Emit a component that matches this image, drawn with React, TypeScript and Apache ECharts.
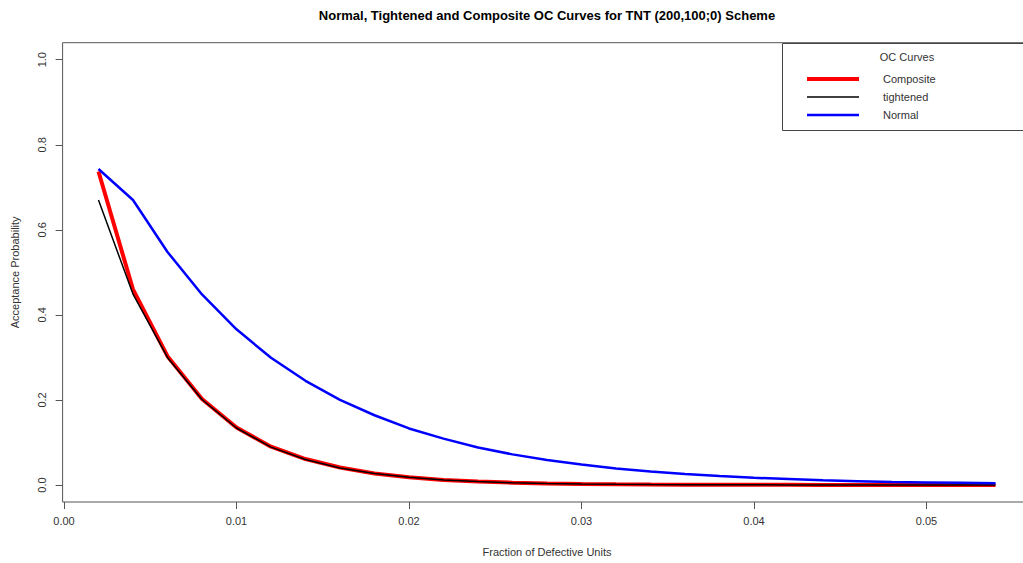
import React, { useEffect, useRef } from "react";
import * as echarts from "echarts";

const fractions = [
  0.002, 0.004, 0.006, 0.008, 0.01, 0.012, 0.014, 0.016, 0.018, 0.02, 0.022, 0.024, 0.026, 0.028,
  0.03, 0.032, 0.034, 0.036, 0.038, 0.04, 0.042, 0.044, 0.046, 0.048, 0.05, 0.052, 0.054,
];
const composite = [
  0.737, 0.46, 0.303, 0.202, 0.135, 0.09, 0.061, 0.041, 0.027, 0.018, 0.012, 0.008, 0.0055, 0.0037,
  0.0025, 0.0017, 0.0012, 0.0008, 0.0006, 0.0004, 0.0003, 0.0002, 0.0002, 0.0001, 0.0001, 0.0001, 0,
];
const tightened = [
  0.67, 0.449, 0.3, 0.201, 0.134, 0.089, 0.06, 0.04, 0.027, 0.018, 0.012, 0.008, 0.005, 0.0035,
  0.0023, 0.0015, 0.001, 0.0007, 0.0005, 0.0003, 0.0002, 0.0001, 0.0001, 0.0001, 0, 0, 0,
];
const normal = [
  0.743, 0.67, 0.548, 0.448, 0.366, 0.299, 0.245, 0.2, 0.164, 0.133, 0.109, 0.088, 0.072, 0.059,
  0.048, 0.039, 0.032, 0.026, 0.021, 0.017, 0.014, 0.011, 0.009, 0.007, 0.006, 0.005, 0.004,
];
const xTicks = [0, 0.01, 0.02, 0.03, 0.04, 0.05];
const yTicks = [0, 0.2, 0.4, 0.6, 0.8, 1.0];
const legendTitle = "OC Curves";
const legendNames = ["Composite", "tightened", "Normal"];
const chartTitle = "Normal, Tightened and Composite OC Curves for TNT (200,100;0) Scheme";

const FONT = "'Liberation Sans', Arial, sans-serif";

export default function App() {
  const ref = useRef<HTMLDivElement>(null);
  useEffect(() => {
    document.body.style.margin = "0";
    if (!ref.current) return;
    const chart = echarts.init(ref.current, undefined, { renderer: "svg" });
    const pairs = (ys: number[]) => fractions.map((x, i) => [x, ys[i]]);
    const colors = ["#ff0000", "#000000", "#0000ff"];
    const widths = [4, 1.5, 2.5];
    const legendY = [79, 97, 115];
    chart.setOption({
      animation: false,
      backgroundColor: "#ffffff",
      textStyle: { fontFamily: FONT },
      grid: {
        left: 62.6, top: 42.7, right: -8.4, bottom: 61,
        containLabel: false, outerBoundsMode: "none",
        show: true, borderColor: "#555", borderWidth: 1, backgroundColor: "transparent",
      },
      xAxis: {
        type: "value",
        min: -0.00008,
        max: 0.05608,
        splitLine: { show: false },
        axisLine: { show: false, onZero: false },
        axisTick: { show: true, length: 7, lineStyle: { color: "#555" }, customValues: xTicks },
        axisLabel: { customValues: xTicks, formatter: (v: number) => v.toFixed(2), color: "#333", fontSize: 11, margin: 13, fontFamily: FONT },
        name: "Fraction of Defective Units",
        nameLocation: "middle",
        nameGap: 44,
        nameTextStyle: { color: "#333", fontSize: 11, fontFamily: FONT },
      },
      yAxis: {
        type: "value",
        min: -0.04,
        max: 1.04,
        splitLine: { show: false },
        axisLine: { show: false, onZero: false },
        axisTick: { show: true, length: 7, lineStyle: { color: "#555" }, customValues: yTicks },
        axisLabel: { customValues: yTicks, rotate: 90, formatter: (v: number) => v.toFixed(1), color: "#333", fontSize: 11, margin: 15, fontFamily: FONT },
        name: "Acceptance Probability",
        nameLocation: "middle",
        nameGap: 42,
        nameTextStyle: { color: "#333", fontSize: 11, fontFamily: FONT },
      },
      series: [
        { name: legendNames[0], type: "line", data: pairs(composite), showSymbol: false, lineStyle: { color: colors[0], width: widths[0] }, z: 2 },
        { name: legendNames[1], type: "line", data: pairs(tightened), showSymbol: false, lineStyle: { color: colors[1], width: widths[1] }, z: 3 },
        { name: legendNames[2], type: "line", data: pairs(normal), showSymbol: false, lineStyle: { color: colors[2], width: widths[2] }, z: 4 },
      ],
      graphic: [
        { type: "text", x: 547, y: 15, style: { text: chartTitle, font: `bold 13px ${FONT}`, fill: "#000", textAlign: "center", textVerticalAlign: "middle" } },
        { type: "rect", shape: { x: 782.5, y: 43.5, width: 260, height: 87 }, style: { fill: "#fff", stroke: "#444", lineWidth: 1 }, z: 10 },
        { type: "text", x: 907, y: 57, style: { text: legendTitle, font: `11px ${FONT}`, fill: "#333", textAlign: "center", textVerticalAlign: "middle" }, z: 11 },
        ...legendNames.flatMap((n, i) => [
          { type: "line", shape: { x1: 807, y1: legendY[i], x2: 859, y2: legendY[i] }, style: { stroke: colors[i], lineWidth: widths[i] }, z: 11 },
          { type: "text", x: 883, y: legendY[i], style: { text: n, font: `11px ${FONT}`, fill: "#333", textAlign: "left", textVerticalAlign: "middle" }, z: 11 },
        ]),
      ],
    });
    return () => chart.dispose();
  }, []);
  return <div ref={ref} style={{ width: 1023, height: 563 }} />;
}
